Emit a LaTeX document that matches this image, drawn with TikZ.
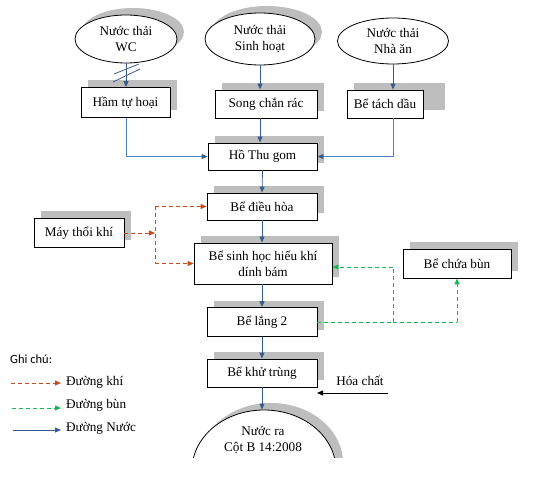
\documentclass[tikz,border=0pt]{standalone}
\usepackage{fontspec}
\setmainfont{Liberation Serif}
\newfontfamily\calibrifont{Carlito}
\usetikzlibrary{arrows.meta,shapes.geometric,shadows,backgrounds}
\definecolor{navy}{HTML}{385D8A}
\definecolor{lblue}{HTML}{4F81BD}
\definecolor{airred}{RGB}{200,75,30}
\definecolor{sludge}{RGB}{20,185,80}
\definecolor{shadowgray}{RGB}{190,190,190}
\begin{document}
\begin{tikzpicture}[x=1pt,y=-1pt,
  font=\fontsize{13.2}{16}\selectfont,
  shd/.style={drop shadow={shadow xshift=7pt,shadow yshift=7pt,fill=shadowgray,opacity=1}},
  procbox/.style={draw=black,line width=0.8pt,fill=white,inner sep=0pt,align=center},
  srcell/.style={ellipse,draw=black,line width=0.8pt,fill=white,inner sep=0pt,align=center},
  tip/.style={-{Triangle[length=6pt,width=5pt]}},
  water/.style={draw=navy,line width=0.8pt,tip},
  pipe/.style={draw=lblue,line width=0.8pt,-{Triangle[length=6pt,width=5pt,color=navy]}},
  air/.style={draw=airred,line width=0.9pt,dash pattern=on 4pt off 3pt},
  sludgeline/.style={draw=sludge,line width=1pt,dash pattern=on 4pt off 3pt},
]
\useasboundingbox (0,0) rectangle (543,486);

% source ellipses
\node[srcell,shd,minimum width=102pt,minimum height=48pt] (wc) at (126,39) {Nước thải\\WC};
\node[srcell,shd,minimum width=110pt,minimum height=52pt] (sh) at (260,39) {Nước thải\\Sinh hoạt};
\node[srcell,minimum width=111pt,minimum height=46pt] (na) at (393,41) {Nước thải\\Nhà ăn};

% first row
\node[procbox,shd,minimum width=89pt,minimum height=30pt] (ham) at (125.5,102.5) {Hầm tự hoại};
\node[procbox,shd,minimum width=102pt,minimum height=28pt] (song) at (266,104) {Song chắn rác};
\node[procbox,minimum width=76pt,minimum height=28pt] (tach) at (385,104) {Bể tách dầu};
\begin{pgfonlayer}{background}
\fill[shadowgray] (354,83) rectangle (445,110);
\end{pgfonlayer}

% main column
\node[procbox,shd,minimum width=109pt,minimum height=27pt] (ho) at (262.5,156.5) {Hồ Thu gom};
\node[procbox,shd,minimum width=110pt,minimum height=27pt] (dh) at (262,206.5) {Bể điều hòa};
\node[procbox,shd,minimum width=138pt,minimum height=41pt] (sinh) at (263,263.5) {Bể sinh học hiếu khí\\dính bám};
\node[procbox,shd,minimum width=110pt,minimum height=29pt] (lang) at (262,322) {Bể lắng 2};
\node[procbox,shd,minimum width=110pt,minimum height=28pt] (khu) at (262,373) {Bể khử trùng};
\node[procbox,shd,minimum width=90pt,minimum height=29pt] (may) at (79,233) {Máy thổi khí};
\node[procbox,shd,minimum width=108pt,minimum height=29pt] (bun) at (457,263.5) {Bể chứa bùn};

% outlet ellipse (clipped at bottom)
\begin{scope}
\clip (0,0) rectangle (543,457);
\node[srcell,shd,minimum width=144pt,minimum height=120pt] (out) at (264,470) {};
\end{scope}
\node[align=center,inner sep=0pt] (outtxt) at (263,440) {Nước ra\\Cột B 14:2008};

% water connectors
\draw[water] (wc.south) -- (wc.south |- ham.north);
\draw[navy,line width=0.8pt] (114,74) -- (139,64);
\draw[navy,line width=0.8pt] (113,82) -- (140,69);
\draw[water] (sh.south) -- (sh.south |- song.north);
\draw[water] (na.south) -- (na.south |- tach.north);
\draw[water] (sh.south |- song.south) -- (sh.south |- ho.north);
\draw[pipe] (wc.south |- ham.south) |- (ho.west);
\draw[pipe] (na.south |- tach.south) |- (ho.east);
\draw[water] (ho.south) -- (dh.north);
\draw[water] (dh.south) -- (dh.south |- sinh.north);
\draw[water] (dh.south |- sinh.south) -- (dh.south |- lang.north);
\draw[water] (lang.south) -- (khu.north);
\draw[water] (khu.south) -- (khu.south |- out.north);

% air lines
\coordinate (aj) at (155,233);
\draw[air,tip] (may.east) -- (aj);
\draw[air] (aj |- dh.west) -- (aj |- sinh.west);
\draw[air,tip] (aj |- dh.west) -- (dh.west);
\draw[air,tip] (aj |- sinh.west) -- (sinh.west);

% sludge lines
\coordinate (sj) at (393,322);
\coordinate (sk) at (393,267);
\coordinate (sb) at (457,322);
\draw[sludgeline] (lang.east) -- (sj);
\draw[sludgeline] (sj) -- (sk);
\draw[sludgeline,tip] (sk) -- (sk -| sinh.east);
\draw[sludgeline] (sj) -- (sb);
\draw[sludgeline,tip] (sb) -- (bun.south);

% chemical
\node[inner sep=0pt] (hc) at (360,381) {Hóa chất};
\coordinate (hcs) at (388,393);
\coordinate (hce) at (317,393);
\draw[black,line width=0.8pt,tip] (hcs) -- (hce);

% legend
\node[anchor=west,inner sep=0pt,font=\calibrifont\fontsize{12.5}{15}\selectfont] (gc) at (10,359) {Ghi chú:};
\coordinate (l1a) at (11,383); \coordinate (l1b) at (61,383);
\coordinate (l2a) at (12,408); \coordinate (l2b) at (61,408);
\coordinate (l3a) at (13,430); \coordinate (l3b) at (61,430);
\draw[air,tip] (l1a) -- (l1b);
\draw[sludgeline,tip] (l2a) -- (l2b);
\draw[water] (l3a) -- (l3b);
\node[anchor=west,inner sep=0pt] (t1) at (66,382) {Đường khí};
\node[anchor=west,inner sep=0pt] (t2) at (66,405) {Đường bùn};
\node[anchor=west,inner sep=0pt] (t3) at (66,428) {Đường Nước};
\end{tikzpicture}
\end{document}
